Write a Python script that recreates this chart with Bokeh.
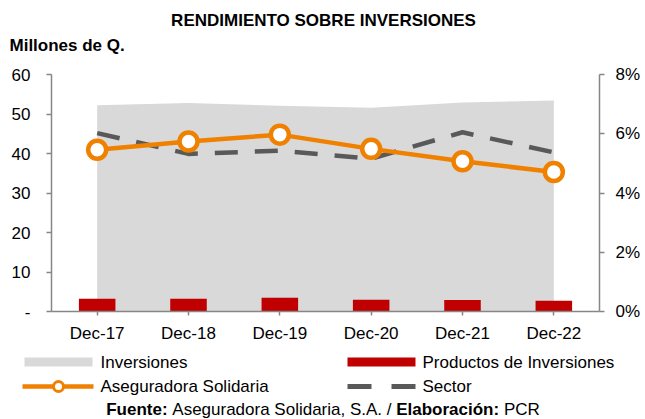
from bokeh.plotting import figure
from bokeh.models import (Range1d, FactorRange, LinearAxis, FixedTicker,
                          NumeralTickFormatter)
from bokeh.layouts import column, row
from bokeh.core.properties import value
from bokeh.embed import file_html
from bokeh.resources import INLINE

# ---------------- data ----------------
categories = ["Dec-17", "Dec-18", "Dec-19", "Dec-20", "Dec-21", "Dec-22"]
inversiones = [52.2, 52.8, 52.1, 51.6, 52.9, 53.4]          # millones de Q.
productos = [3.2, 3.2, 3.5, 3.0, 2.9, 2.7]                  # millones de Q.
aseguradora = [0.0546, 0.0574, 0.0597, 0.0549, 0.0507, 0.0471]
sector = [0.0602, 0.0532, 0.0543, 0.0516, 0.0605, 0.0537]
left_ticks = [0, 10, 20, 30, 40, 50, 60]
right_ticks = [0, 0.02, 0.04, 0.06, 0.08]

title_text = "RENDIMIENTO SOBRE INVERSIONES"
unit_text = "Millones de Q."
legend_labels = ["Inversiones", "Productos de Inversiones",
                 "Aseguradora Solidaria", "Sector"]

FONT = "Liberation Sans"
FS = "17px"
GREY_AREA = "#D9D9D9"
RED = "#C00000"
ORANGE = "#F08000"
DARK = "#595959"
AXIS = "#868686"


def blank_fig(height, y_top, y_bottom):
    f = figure(width=645, height=height, x_range=Range1d(0, 645),
               y_range=Range1d(y_bottom, y_top), output_backend="svg",
               toolbar_location=None, x_axis_location=None,
               y_axis_location=None, min_border=0)
    f.outline_line_color = None
    f.xgrid.grid_line_color = None
    f.ygrid.grid_line_color = None
    f.border_fill_color = "white"
    f.background_fill_color = "white"
    return f


# ---------------- header (title + unit) ----------------
top = blank_fig(56, 0, 56)
top.text(x=[323], y=[20], text=[title_text], text_font=value(FONT),
         text_font_size=value(FS), text_font_style="bold",
         text_align="center", text_baseline="middle", text_color="black")
top.text(x=[9], y=[45], text=[unit_text], text_font=value(FONT),
         text_font_size=value(FS), text_font_style="bold",
         text_align="left", text_baseline="middle", text_color="black")

# ---------------- main chart ----------------
p = figure(width=645, height=289, x_range=FactorRange(*categories),
           y_range=Range1d(0, 60), output_backend="svg", toolbar_location=None,
           min_border_left=51, min_border_right=46, min_border_top=18,
           min_border_bottom=34)
p.extra_y_ranges = {"pct": Range1d(0, 0.08)}
p.outline_line_color = None
p.xgrid.grid_line_color = None
p.ygrid.grid_line_color = None
p.background_fill_color = "white"
p.border_fill_color = "white"

p.varea(x=categories, y1=[0] * len(categories), y2=inversiones,
        fill_color=GREY_AREA)
p.vbar(x=categories, top=productos, width=0.4, fill_color=RED,
       line_color=None)
p.line(x=categories, y=sector, y_range_name="pct", line_color=DARK,
       line_width=4.5, line_dash="23 17")
p.line(x=categories, y=aseguradora, y_range_name="pct", line_color=ORANGE,
       line_width=4.5)
p.scatter(x=categories, y=aseguradora, y_range_name="pct", size=18,
          marker="circle", fill_color="white", line_color=ORANGE,
          line_width=4.5)


def style_axis(ax):
    ax.axis_line_color = AXIS
    ax.axis_line_width = 1.5
    ax.major_tick_line_color = AXIS
    ax.major_tick_line_width = 1.5
    ax.major_tick_in = 0
    ax.major_tick_out = 5
    ax.minor_tick_line_color = None
    ax.major_label_text_font = FONT
    ax.major_label_text_font_size = FS
    ax.major_label_text_color = "black"


yl = p.yaxis[0]
yl.ticker = FixedTicker(ticks=left_ticks)
yl.major_label_overrides = {0: "-"}
style_axis(yl)
yl.major_label_standoff = 16

yr = LinearAxis(y_range_name="pct", ticker=FixedTicker(ticks=right_ticks),
                formatter=NumeralTickFormatter(format="0%"))
style_axis(yr)
yr.major_label_standoff = 11
p.add_layout(yr, "right")

xa = p.xaxis[0]
style_axis(xa)
xa.major_tick_out = 4
xa.major_label_standoff = 8

# ---------------- legend + source ----------------
leg = blank_fig(74, 345, 419)

leg.rect(x=[58], y=[361.5], width=68, height=9, fill_color=GREY_AREA,
         line_color=None)
leg.rect(x=[381], y=[361.5], width=68, height=9, fill_color=RED,
         line_color=None)
leg.line(x=[22, 93], y=[386, 386], line_color=ORANGE, line_width=4.5)
leg.scatter(x=[58], y=[386], size=10, marker="circle", fill_color="white",
            line_color=ORANGE, line_width=3)
leg.line(x=[347, 415], y=[386, 386], line_color=DARK, line_width=5,
         line_dash="24 20")
leg.text(x=[100, 422, 100, 422], y=[361.5, 361.5, 386, 386],
         text=legend_labels, text_font=value(FONT),
         text_font_size=value(FS), text_baseline="middle",
         text_align="left", text_color="black")

src_bold = ["Fuente:", "Elaboración:"]
src_reg = ["Aseguradora Solidaria, S.A. /", "PCR"]
leg.text(x=[105.7, 395.7], y=[409, 409], text=src_bold,
         text_font=value(FONT), text_font_size=value(FS),
         text_font_style="bold", text_baseline="middle", text_align="left",
         text_color="black")
leg.text(x=[171.8, 503.4], y=[409, 409], text=src_reg,
         text_font=value(FONT), text_font_size=value(FS),
         text_baseline="middle", text_align="left", text_color="black")

layout = column(row(top, spacing=0), p, row(leg, spacing=0), spacing=0)
open("out.html", "w").write(file_html(layout, INLINE))
